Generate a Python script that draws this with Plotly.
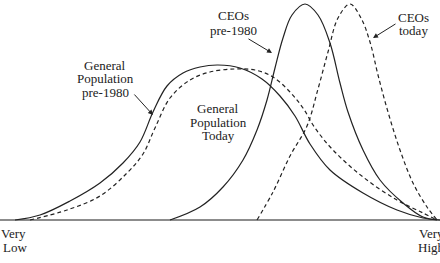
import plotly.graph_objects as go

# Horizontal position (income/skill scale, arbitrary units) and relative height above baseline
gen_pre_x = [15, 40, 70, 100, 123, 140, 153, 167, 183, 200, 218, 240, 262, 280, 295, 310, 330, 363, 397, 423, 437]
gen_pre_y = [0, 5, 19, 37, 57, 78, 108, 134, 147, 153, 155, 152, 141, 124, 104, 76, 50, 27, 10, 2, 0]

gen_today_x = [30, 67, 100, 127, 143, 155, 170, 190, 210, 235, 255, 273, 290, 303, 315, 333, 363, 397, 423, 437]
gen_today_y = [0, 10, 24, 47, 66, 92, 122, 140, 148, 151, 150, 143, 128, 112, 92, 70, 43, 20, 7, 0]

ceo_pre_x = [170, 200, 223, 243, 257, 267, 275, 283, 292, 305, 318, 330, 340, 348, 363, 380, 403, 423, 440]
ceo_pre_y = [0, 13, 33, 60, 90, 120, 152, 182, 205, 216, 205, 177, 137, 108, 70, 40, 17, 3, 0]

ceo_today_x = [257, 273, 290, 307, 318, 328, 338, 350, 361, 370, 378, 388, 400, 413, 427, 437]
ceo_today_y = [0, 28, 64, 94, 131, 168, 202, 216, 202, 178, 145, 108, 70, 37, 13, 0]

axis_x = [0, 440]
axis_y = [0, 0]

# label lines: (text, x, y)
label_lines = [
    ("General", 105, 155), ("Population", 105, 142), ("pre-1980", 105, 128),
    ("General", 218, 112), ("Population", 218, 98), ("Today", 218, 85),
    ("CEOs", 233, 205), ("pre-1980", 233, 190),
    ("CEOs", 413, 203), ("today", 413, 190),
]
end_labels = [("Very", 0, -13, "left"), ("Low", 2, -27, "left"),
              ("Very", 418, -13, "left"), ("High", 417, -27, "left")]
# arrows: (tail_x, tail_y, tip_x, tip_y)
arrows = [(133, 127, 153, 105), (247, 182, 272, 167), (397, 197, 373, 182)]

ink = "#222222"
fig = go.Figure()
fig.add_trace(go.Scatter(x=axis_x, y=axis_y, mode="lines", line=dict(color="#666666", width=1.6), hoverinfo="skip"))
for xs, ys, dash in [(gen_pre_x, gen_pre_y, "solid"), (gen_today_x, gen_today_y, "4px,3px"),
                     (ceo_pre_x, ceo_pre_y, "solid"), (ceo_today_x, ceo_today_y, "4px,3px")]:
    fig.add_trace(go.Scatter(x=xs, y=ys, mode="lines",
                             line=dict(color=ink, width=1.2, dash=dash, shape="spline", smoothing=1.0),
                             hoverinfo="skip"))

font = dict(family="Liberation Serif", size=13, color=ink)
for t, x, y in label_lines:
    fig.add_annotation(x=x, y=y, text=t, showarrow=False, xanchor="center", yanchor="middle",
                       font=font, borderpad=0)
for t, x, y, anc in end_labels:
    fig.add_annotation(x=x, y=y, text=t, showarrow=False, xanchor=anc, yanchor="middle",
                       font=font, borderpad=0)
for tx, ty, hx, hy in arrows:
    fig.add_annotation(x=hx, y=hy, ax=tx, ay=ty, axref="x", ayref="y", text="",
                       showarrow=True, arrowhead=2, arrowsize=1, arrowwidth=1, arrowcolor=ink)

fig.update_layout(
    width=440, height=263, margin=dict(l=0, r=0, t=0, b=0),
    paper_bgcolor="white", plot_bgcolor="white", showlegend=False,
    xaxis=dict(range=[0, 440], visible=False, fixedrange=True),
    yaxis=dict(range=[-43, 220], visible=False, fixedrange=True),
)
fig.write_html("out.html")
